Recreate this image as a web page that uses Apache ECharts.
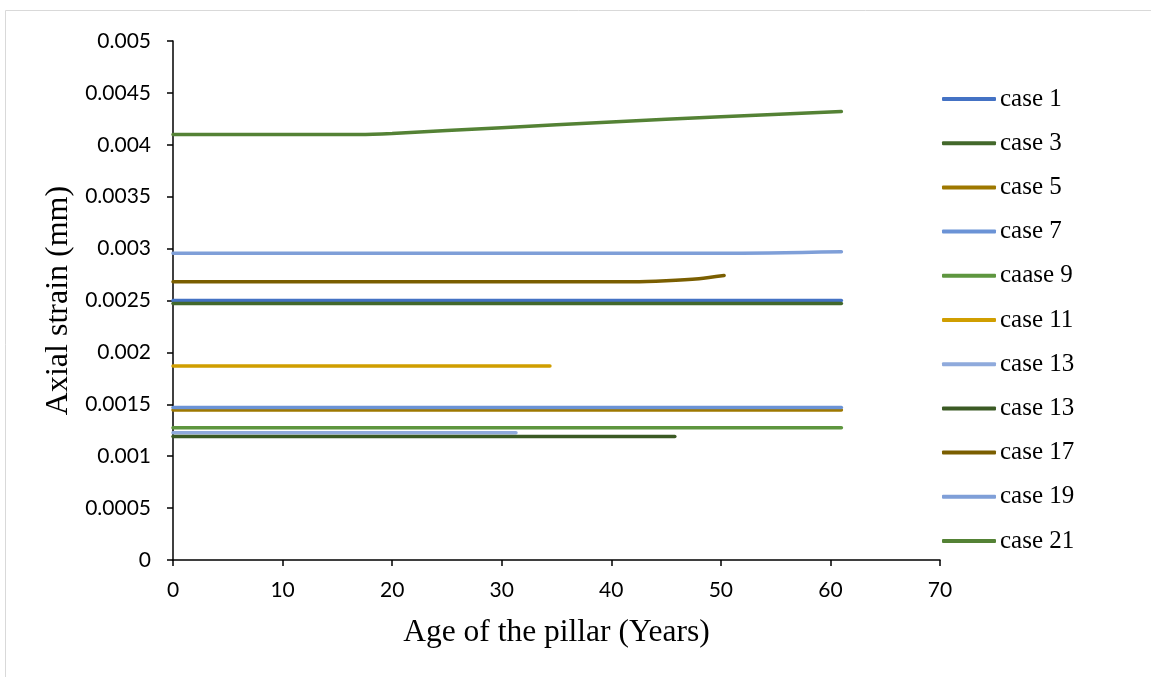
<!DOCTYPE html>
<html>
<head>
<meta charset="utf-8">
<script src="https://cdn.jsdelivr.net/npm/echarts@6/dist/echarts.min.js"></script>
<style>
  html, body { margin: 0; padding: 0; background: #fff; }
  #main { width: 1151px; height: 677px; }
</style>
</head>
<body>
<div id="main"></div>
<script>
// [year, axial strain]
const case1 = [[0, 0.0025], [61, 0.0025]];
const case3 = [[0, 0.00247], [61, 0.00247]];
const case5 = [[0, 0.001445], [61, 0.001445]];
const case7 = [[0, 0.00147], [61, 0.00147]];
const case9 = [[0, 0.001275], [61, 0.001275]];
const case11 = [[0, 0.00187], [34.4, 0.00187]];
const case13 = [[0, 0.001225], [31.3, 0.001225]];
const case13b = [[0, 0.00119], [45.8, 0.00119]];
const case17 = [[0, 0.00268], [42, 0.00268], [45, 0.00269], [48, 0.00271], [50.3, 0.00274]];
const case19 = [[0, 0.002955], [50, 0.002955], [61, 0.00297]];
const case21 = [[0, 0.0041], [17, 0.0041], [20, 0.00411], [30, 0.004165], [40, 0.00422], [50, 0.00427], [61, 0.00432]];

// second "case 13" gets a trailing space so the legend keeps both entries
const names = ['case 1', 'case 3', 'case 5', 'case 7', 'caase 9', 'case 11', 'case 13', 'case 13 ', 'case 17', 'case 19', 'case 21'];
const colors = ['#4472C4', '#43682B', '#9E7800', '#6B93D6', '#5E963F', '#D09E00', '#8FAADC', '#3B5A24', '#7A5E00', '#7F9FD8', '#548235'];
const seriesData = [case1, case3, case5, case7, case9, case11, case13, case13b, case17, case19, case21];

const chart = echarts.init(document.getElementById('main'));

const option = {
  backgroundColor: '#fff',
  animation: false,
  color: colors,
  graphic: [{
    type: 'rect',
    shape: {x: 5.5, y: 10.5, width: 1200, height: 700},
    style: {fill: 'none', stroke: '#d9d9d9', lineWidth: 1},
    silent: true
  }],
  grid: {left: 173, top: 41, right: 211, bottom: 117},
  legend: {
    orient: 'vertical',
    left: 942,
    top: 86,
    padding: 0,
    itemWidth: 54,
    itemHeight: 4,
    itemGap: 18.2,
    icon: 'roundRect',
    data: names,
    formatter: name => name.trim(),
    textStyle: {
      fontFamily: 'Liberation Serif',
      fontSize: 25,
      lineHeight: 26,
      color: '#000',
      padding: [0, 0, 0, -1]
    }
  },
  xAxis: {
    type: 'value',
    min: 0,
    max: 70,
    interval: 10,
    name: 'Age of the pillar (Years)',
    nameLocation: 'middle',
    nameGap: 57,
    nameTextStyle: {fontFamily: 'Liberation Serif', fontSize: 31.5, color: '#000'},
    axisLine: {onZero: false, lineStyle: {color: '#000', width: 1.5}},
    axisTick: {show: true, inside: false, length: 6, lineStyle: {color: '#000', width: 1.5}},
    axisLabel: {fontFamily: 'Lato', fontSize: 21, color: '#000', margin: 20},
    splitLine: {show: false}
  },
  yAxis: {
    type: 'value',
    min: 0,
    max: 0.005,
    interval: 0.0005,
    name: 'Axial strain (mm)',
    nameLocation: 'middle',
    nameGap: 97,
    nameTextStyle: {fontFamily: 'Liberation Serif', fontSize: 32, color: '#000'},
    axisLine: {show: true, lineStyle: {color: '#000', width: 1.5}},
    axisTick: {show: true, inside: false, length: 6, lineStyle: {color: '#000', width: 1.5}},
    axisLabel: {
      fontFamily: 'Lato', fontSize: 21, color: '#000', margin: 22,
      formatter: v => String(+v.toFixed(4))
    },
    splitLine: {show: false}
  },
  series: seriesData.map((d, i) => ({
    type: 'line',
    name: names[i],
    data: d,
    symbol: 'none',
    smooth: 0.3,
    lineStyle: {width: 3.5, color: colors[i], cap: 'round'},
    itemStyle: {color: colors[i]}
  }))
};

chart.setOption(option);
</script>
</body>
</html>
